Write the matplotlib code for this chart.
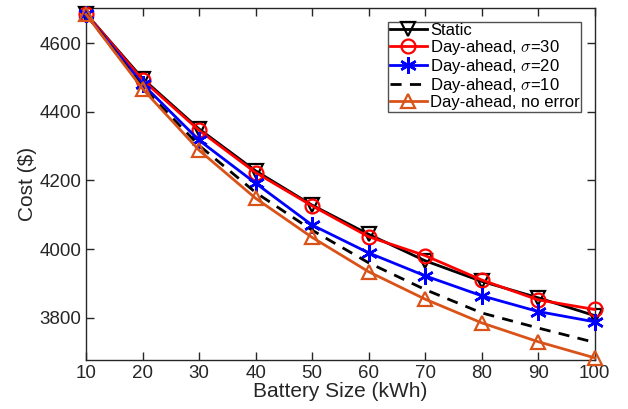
import matplotlib
matplotlib.use("Agg")
import matplotlib.pyplot as plt

battery = [10, 20, 30, 40, 50, 60, 70, 80, 90, 100]
static = [4686, 4497, 4350, 4228, 4128, 4043, 3966, 3906, 3858, 3806]
da_s30 = [4686, 4493, 4346, 4223, 4126, 4036, 3981, 3910, 3852, 3824]
da_s20 = [4684, 4481, 4317, 4192, 4070, 3989, 3922, 3864, 3818, 3788]
da_s10 = [4684, 4472, 4302, 4165, 4055, 3960, 3882, 3814, 3770, 3728]
da_noerr = [4684, 4467, 4288, 4148, 4034, 3934, 3854, 3785, 3730, 3683]

xticks = [10, 20, 30, 40, 50, 60, 70, 80, 90, 100]
yticks = [3800, 4000, 4200, 4400, 4600]

plt.rcParams['font.family'] = ['Liberation Sans', 'DejaVu Sans']
plt.rcParams['mathtext.fontset'] = 'cm'

fig = plt.figure(figsize=(6.28, 4.09), dpi=100)
ax = fig.add_axes([0.137, 0.120, 0.810, 0.860])

ms = 10
ax.plot(battery, static, color='black', lw=2, marker='v', ms=ms, mfc='none', mew=1.6,
        label='Static', clip_on=False, zorder=3)
ax.plot(battery, da_s30, color='#ff0000', lw=2, marker='o', ms=ms, mfc='none', mew=1.6,
        label=r'Day-ahead, $\sigma$=30', clip_on=False, zorder=3)
ax.plot(battery, da_s20, color='#0000ff', lw=2, marker=(6, 2, 0), ms=ms + 2, mfc='none', mew=1.8,
        label=r'Day-ahead, $\sigma$=20', clip_on=False, zorder=3)
ax.plot(battery, da_s10, color='black', lw=2, ls=(0, (4, 3)),
        label=r'Day-ahead, $\sigma$=10', clip_on=False, zorder=3)
ax.plot(battery, da_noerr, color='#d95319', lw=2, marker='^', ms=ms, mfc='none', mew=1.6,
        label='Day-ahead, no error', clip_on=False, zorder=3)

ax.set_xlim(10, 100)
ax.set_ylim(3677, 4702)
ax.set_xticks(xticks)
ax.set_yticks(yticks)
ax.tick_params(direction='in', top=True, right=True, labelsize=13.5, colors='#262626', length=6, width=1)
for s in ax.spines.values():
    s.set_color('#262626')
    s.set_linewidth(1)
ax.set_xlabel('Battery Size (kWh)', fontsize=15, color='#262626', labelpad=0)
ax.set_ylabel('Cost ($)', fontsize=15, color='#262626', labelpad=2)

leg = ax.legend(loc='upper right', fontsize=12, frameon=True, fancybox=False, edgecolor='#262626',
                handlelength=2.2, handletextpad=0.2, borderpad=0.1, labelspacing=0.0,
                borderaxespad=0.8)
leg.get_frame().set_linewidth(1)
leg.set_zorder(5)

fig.savefig('out.png', dpi=100)
